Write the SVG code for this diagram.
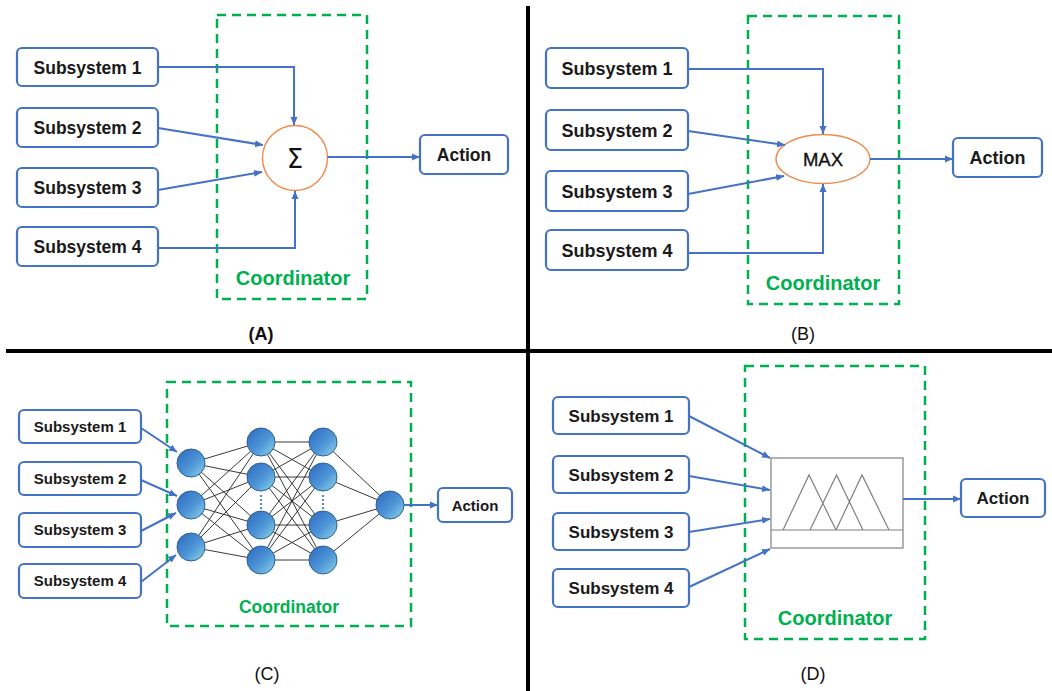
<svg xmlns="http://www.w3.org/2000/svg" width="1052" height="691" viewBox="0 0 1052 691">
<defs>
<style>
.box{fill:#fff;stroke:#4472C4;stroke-width:2.2}
.coord{fill:none;stroke:#00B050;stroke-width:2.5;stroke-dasharray:9 6}
.ct{fill:#00B050;font-family:"Liberation Sans",Arial,sans-serif;font-weight:bold;text-anchor:middle}
.t{fill:#1a1a1a;font-family:"Liberation Sans",Arial,sans-serif;font-weight:bold;text-anchor:middle}
.lbl{fill:#111;font-family:"Liberation Sans",Arial,sans-serif;font-size:18px;text-anchor:middle}
.conn{fill:none;stroke:#4472C4;stroke-width:2;marker-end:url(#arr)}
.nn{stroke:#222;stroke-width:0.9;fill:none}
.neu{fill:url(#ng);stroke:#2d5f98;stroke-width:1}
.fz{fill:none;stroke:#808080;stroke-width:1.2}
.div{stroke:#000;stroke-width:4}
</style>
<marker id="arr" markerUnits="userSpaceOnUse" markerWidth="9" markerHeight="8" refX="8" refY="4" orient="auto">
<path d="M0,0.5 L8,4 L0,7.5 z" fill="#4472C4"/>
</marker>
<linearGradient id="ng" x1="0" y1="0" x2="1" y2="1">
<stop offset="0" stop-color="#2e68bf"/>
<stop offset="0.55" stop-color="#4d95d6"/>
<stop offset="1" stop-color="#8fd6e8"/>
</linearGradient>
</defs>
<rect width="1052" height="691" fill="#fff"/>

<g id="dividers">
<line class="div" x1="6" y1="351" x2="1052" y2="351"/>
<line class="div" x1="528" y1="6" x2="528" y2="691"/>
</g>

<!-- Panel A -->
<g id="a-coordinator"><rect class="coord" x="217" y="15" width="150" height="284"/><text class="ct" x="293" y="285" font-size="20">Coordinator</text></g>
<g id="a-sub1"><rect class="box" x="17" y="48" width="141" height="38" rx="5"/><text class="t" x="87.5" y="73.5" font-size="17.5">Subsystem 1</text></g>
<g id="a-sub2"><rect class="box" x="17" y="108" width="141" height="39" rx="5"/><text class="t" x="87.5" y="134" font-size="17.5">Subsystem 2</text></g>
<g id="a-sub3"><rect class="box" x="17" y="168" width="141" height="39" rx="5"/><text class="t" x="87.5" y="194" font-size="17.5">Subsystem 3</text></g>
<g id="a-sub4"><rect class="box" x="17" y="227" width="141" height="39" rx="5"/><text class="t" x="87.5" y="253" font-size="17.5">Subsystem 4</text></g>
<g id="a-sum"><circle cx="295" cy="158" r="32.5" fill="#fff" stroke="#F08A4B" stroke-width="1.4"/><text x="295" y="167.5" font-family="'DejaVu Sans',sans-serif" font-size="26" text-anchor="middle" fill="#111">Σ</text></g>
<g id="a-action"><rect class="box" x="420" y="135" width="88" height="39" rx="5"/><text class="t" x="464" y="161" font-size="17.5">Action</text></g>
<g id="a-label"><text class="lbl" x="261" y="340" font-weight="bold">(A)</text></g>

<!-- Panel B -->
<g id="b-coordinator"><rect class="coord" x="748" y="16" width="151" height="288"/><text class="ct" x="823" y="290" font-size="20">Coordinator</text></g>
<g id="b-sub1"><rect class="box" x="546" y="48" width="142" height="40" rx="5"/><text class="t" x="617" y="74.5" font-size="18">Subsystem 1</text></g>
<g id="b-sub2"><rect class="box" x="546" y="110" width="142" height="40" rx="5"/><text class="t" x="617" y="136.5" font-size="18">Subsystem 2</text></g>
<g id="b-sub3"><rect class="box" x="546" y="171" width="142" height="40" rx="5"/><text class="t" x="617" y="197.5" font-size="18">Subsystem 3</text></g>
<g id="b-sub4"><rect class="box" x="546" y="230" width="142" height="40" rx="5"/><text class="t" x="617" y="256.5" font-size="18">Subsystem 4</text></g>
<g id="b-max"><ellipse cx="823" cy="159" rx="47" ry="24.5" fill="#fff" stroke="#F08A4B" stroke-width="1.4"/><text x="823" y="165.5" font-family="'Liberation Sans',Arial,sans-serif" font-size="18.5" text-anchor="middle" fill="#111" stroke="#111" stroke-width="0.35">MAX</text></g>
<g id="b-action"><rect class="box" x="953" y="138" width="89" height="39" rx="5"/><text class="t" x="997.5" y="164" font-size="18">Action</text></g>
<g id="b-label"><text class="lbl" x="803" y="340">(B)</text></g>

<!-- Panel C -->
<g id="c-coordinator"><rect class="coord" x="167" y="382" width="244" height="244"/><text class="ct" x="289" y="613" font-size="17.5">Coordinator</text></g>
<g id="c-sub1"><rect class="box" x="19" y="410" width="122" height="33" rx="5"/><text class="t" x="80" y="431.5" font-size="15">Subsystem 1</text></g>
<g id="c-sub2"><rect class="box" x="19" y="462" width="122" height="33" rx="5"/><text class="t" x="80" y="483.5" font-size="15">Subsystem 2</text></g>
<g id="c-sub3"><rect class="box" x="19" y="513" width="122" height="34" rx="5"/><text class="t" x="80" y="535" font-size="15">Subsystem 3</text></g>
<g id="c-sub4"><rect class="box" x="19" y="564" width="122" height="34" rx="5"/><text class="t" x="80" y="586" font-size="15">Subsystem 4</text></g>
<g id="c-network">
<g class="nn">
<path d="M191,463 L261,442 M191,463 L261,477 M191,463 L261,525 M191,463 L261,560 M191,505 L261,442 M191,505 L261,477 M191,505 L261,525 M191,505 L261,560 M191,547 L261,442 M191,547 L261,477 M191,547 L261,525 M191,547 L261,560"/>
<path d="M261,442 L323,442 M261,442 L323,477 M261,442 L323,525 M261,442 L323,560 M261,477 L323,442 M261,477 L323,477 M261,477 L323,525 M261,477 L323,560 M261,525 L323,442 M261,525 L323,477 M261,525 L323,525 M261,525 L323,560 M261,560 L323,442 M261,560 L323,477 M261,560 L323,525 M261,560 L323,560"/>
<path d="M323,442 L390,505 M323,477 L390,505 M323,525 L390,505 M323,560 L390,505"/>
</g>
<circle class="neu" cx="191" cy="463" r="14"/>
<circle class="neu" cx="191" cy="505" r="14"/>
<circle class="neu" cx="191" cy="547" r="14"/>
<circle class="neu" cx="261" cy="442" r="14"/>
<circle class="neu" cx="261" cy="477" r="14"/>
<circle class="neu" cx="261" cy="525" r="14"/>
<circle class="neu" cx="261" cy="560" r="14"/>
<circle class="neu" cx="323" cy="442" r="14"/>
<circle class="neu" cx="323" cy="477" r="14"/>
<circle class="neu" cx="323" cy="525" r="14"/>
<circle class="neu" cx="323" cy="560" r="14"/>
<circle class="neu" cx="390" cy="505" r="14"/>
<line x1="261" y1="495" x2="261" y2="509" stroke="#5b8fb5" stroke-width="2.2" stroke-dasharray="2 2"/>
<line x1="323" y1="495" x2="323" y2="509" stroke="#5b8fb5" stroke-width="2.2" stroke-dasharray="2 2"/>
</g>
<g id="c-action"><rect class="box" x="438" y="488" width="74" height="34" rx="5"/><text class="t" x="475" y="510.5" font-size="15">Action</text></g>
<g id="c-label"><text class="lbl" x="267" y="680">(C)</text></g>

<!-- Panel D -->
<g id="d-coordinator"><rect class="coord" x="745" y="366" width="180" height="273"/><text class="ct" x="835" y="625" font-size="20">Coordinator</text></g>
<g id="d-sub1"><rect class="box" x="553" y="397" width="136" height="37" rx="5"/><text class="t" x="621" y="421.5" font-size="17">Subsystem 1</text></g>
<g id="d-sub2"><rect class="box" x="553" y="456" width="136" height="37" rx="5"/><text class="t" x="621" y="480.5" font-size="17">Subsystem 2</text></g>
<g id="d-sub3"><rect class="box" x="553" y="513" width="136" height="37" rx="5"/><text class="t" x="621" y="537.5" font-size="17">Subsystem 3</text></g>
<g id="d-sub4"><rect class="box" x="553" y="569" width="136" height="38" rx="5"/><text class="t" x="621" y="594" font-size="17">Subsystem 4</text></g>
<g id="d-fuzzy">
<rect x="771" y="458" width="132" height="90" fill="#fff" stroke="#8a8a8a" stroke-width="1.3"/>
<line class="fz" x1="771" y1="530" x2="903" y2="530"/>
<path class="fz" d="M783,530 L809,475 L836,530 M810,530 L836.5,475 L863,530 M836,530 L862,475 L889,530"/>
</g>
<g id="d-action"><rect class="box" x="961" y="479" width="84" height="38" rx="5"/><text class="t" x="1003" y="504" font-size="17">Action</text></g>
<g id="d-label"><text class="lbl" x="813" y="680">(D)</text></g>

<g id="connectors">
<path class="conn" d="M158,67 H294 V125"/>
<path class="conn" d="M158,128 L263,145"/>
<path class="conn" d="M158,190 L262,172"/>
<path class="conn" d="M158,248 H295 V191"/>
<path class="conn" d="M327.5,157 H420"/>
<path class="conn" d="M688,69 H823 V134"/>
<path class="conn" d="M688,131 L785,145"/>
<path class="conn" d="M688,194 L784,176"/>
<path class="conn" d="M688,253 H823 V184"/>
<path class="conn" d="M870,159 H953"/>
<path class="conn" d="M141,428 L177,452"/>
<path class="conn" d="M141,480 L177,496"/>
<path class="conn" d="M141,531 L176,513"/>
<path class="conn" d="M141,582 L176,555"/>
<path class="conn" d="M404,505 H438"/>
<path class="conn" d="M689,416 L770,458"/>
<path class="conn" d="M689,476 L770,490"/>
<path class="conn" d="M689,532 L770,519"/>
<path class="conn" d="M689,587 L770,549"/>
<path class="conn" d="M903,499 H961"/>
</g>
</svg>
